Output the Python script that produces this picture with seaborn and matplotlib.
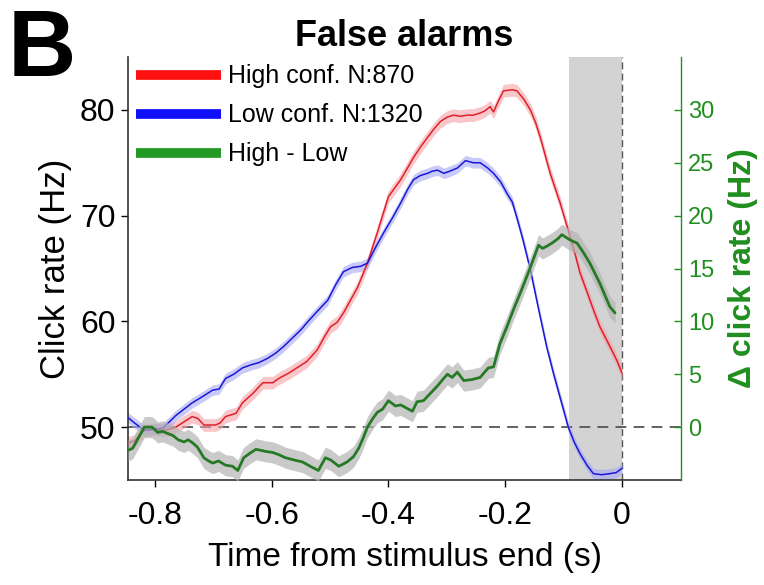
import numpy as np
import pandas as pd
import matplotlib
matplotlib.use("Agg")
import matplotlib.pyplot as plt
import seaborn as sns
from matplotlib.lines import Line2D

# ---------------- data ----------------
t_low = [-0.846, -0.835, -0.818, -0.800, -0.787, -0.775, -0.764, -0.750, -0.736, -0.718,
         -0.701, -0.690, -0.679, -0.665, -0.650, -0.635, -0.622, -0.607, -0.593, -0.580,
         -0.565, -0.550, -0.536, -0.516, -0.504, -0.490, -0.477, -0.462, -0.448, -0.436,
         -0.422, -0.408, -0.393, -0.379, -0.367, -0.357, -0.345, -0.333, -0.325, -0.316,
         -0.305, -0.295, -0.282, -0.268, -0.255, -0.243, -0.230, -0.220, -0.208, -0.197,
         -0.188, -0.180, -0.170, -0.157, -0.143, -0.129, -0.117, -0.106, -0.092, -0.082,
         -0.072, -0.060, -0.049, -0.035, -0.021, -0.010, 0.0]
low_conf = [50.9, 50.4, 49.7, 49.8, 49.9, 50.5, 51.1, 51.7, 52.3, 52.9,
            53.5, 53.6, 54.6, 55.0, 55.6, 55.9, 56.1, 56.5, 57.0, 57.6,
            58.4, 59.2, 60.1, 61.3, 62.0, 63.5, 64.7, 65.1, 65.2, 65.5,
            67.0, 68.4, 69.8, 71.2, 72.5, 73.4, 73.8, 74.0, 74.2, 74.3,
            74.0, 74.2, 74.5, 75.2, 75.0, 75.0, 74.5, 74.0, 73.2, 72.1,
            71.3, 69.8, 67.8, 64.9, 61.2, 57.6, 55.0, 52.8, 50.0, 48.6,
            47.5, 46.4, 45.6, 45.5, 45.6, 45.7, 46.1]

t_high = [-0.846, -0.835, -0.818, -0.800, -0.787, -0.775, -0.764, -0.750, -0.736, -0.726,
          -0.716, -0.705, -0.696, -0.688, -0.679, -0.661, -0.650, -0.632, -0.615, -0.598,
          -0.588, -0.571, -0.554, -0.540, -0.522, -0.508, -0.499, -0.488, -0.477, -0.465,
          -0.453, -0.436, -0.419, -0.400, -0.379, -0.357, -0.345, -0.333, -0.322, -0.311,
          -0.300, -0.289, -0.277, -0.265, -0.255, -0.243, -0.235, -0.226, -0.220, -0.212,
          -0.203, -0.188, -0.180, -0.168, -0.157, -0.148, -0.140, -0.123, -0.106, -0.092,
          -0.080, -0.072, -0.060, -0.049, -0.038, -0.026, -0.015, -0.008, 0.0]
high_conf = [48.5, 48.7, 49.7, 49.8, 49.7, 49.8, 50.0, 50.5, 51.0, 50.8,
             50.2, 50.2, 50.2, 50.4, 51.0, 51.3, 52.3, 53.2, 54.2, 54.2,
             54.6, 55.1, 55.7, 56.2, 57.3, 58.7, 59.5, 59.9, 60.8, 62.0,
             63.2, 65.5, 68.4, 71.8, 73.4, 75.5, 76.5, 77.4, 78.2, 78.9,
             79.3, 79.5, 79.4, 79.5, 79.5, 79.7, 79.9, 80.3, 79.8, 80.8,
             81.8, 81.9, 81.8, 81.0, 80.0, 78.8, 77.4, 74.0, 71.2, 68.6,
             66.3, 64.6, 62.8, 61.1, 59.5, 58.2, 57.0, 56.2, 55.1]

t_diff = [-0.846, -0.838, -0.828, -0.818, -0.805, -0.795, -0.787, -0.778, -0.769, -0.760,
          -0.750, -0.743, -0.735, -0.727, -0.716, -0.708, -0.701, -0.691, -0.679, -0.667,
          -0.658, -0.648, -0.638, -0.627, -0.618, -0.610, -0.598, -0.588, -0.576, -0.562,
          -0.547, -0.534, -0.520, -0.508, -0.499, -0.485, -0.471, -0.460, -0.451, -0.443,
          -0.436, -0.427, -0.419, -0.410, -0.400, -0.388, -0.379, -0.369, -0.359, -0.351,
          -0.340, -0.328, -0.316, -0.307, -0.299, -0.291, -0.282, -0.271, -0.257, -0.243,
          -0.229, -0.220, -0.209, -0.197, -0.186, -0.174, -0.157, -0.143, -0.136, -0.129,
          -0.120, -0.110, -0.103, -0.089, -0.077, -0.066, -0.055, -0.038, -0.021, -0.012]
high_minus_low = [-2.2, -2.0, -1.0, 0.0, 0.0, -0.5, -0.4, -0.6, -0.8, -1.2,
                  -1.4, -1.2, -1.5, -1.9, -2.9, -3.2, -3.4, -3.2, -3.6, -3.7,
                  -4.1, -2.9, -2.5, -2.1, -2.2, -2.3, -2.4, -2.6, -2.9, -3.1,
                  -3.3, -3.7, -4.1, -2.9, -3.1, -3.7, -3.3, -2.8, -2.0, -1.0,
                  0.0, 0.8, 1.4, 1.7, 2.5, 2.0, 2.1, 1.8, 1.5, 2.4,
                  2.5, 3.2, 3.9, 4.5, 5.0, 4.7, 5.2, 4.4, 4.5, 4.7,
                  5.6, 5.7, 7.9, 9.5, 11.1, 12.7, 15.1, 17.2, 16.9, 17.1,
                  17.4, 17.8, 18.2, 17.7, 17.4, 16.5, 15.5, 13.6, 11.4, 10.8]

sem_high = 0.6
sem_low = 0.5
sem_diff = 1.0

labels = ["High conf. N:870", "Low conf. N:1320", "High - Low"]
x_ticks = [-0.8, -0.6, -0.4, -0.2, 0]
x_ticklabels = ["-0.8", "-0.6", "-0.4", "-0.2", "0"]
left_ticks = [50, 60, 70, 80]
right_ticks = [0, 5, 10, 15, 20, 25, 30]
shade_window = (-0.09, 0.0)

# ---------------- styling ----------------
sns.set_theme(style="ticks")
plt.rcParams["font.family"] = ["Liberation Sans", "DejaVu Sans"]
plt.rcParams["axes.unicode_minus"] = False
for k in ("text.color", "axes.labelcolor", "xtick.color", "ytick.color"):
    plt.rcParams[k] = "black"

RED_LINE = "#e0202a"
BLUE_LINE = "#1818d8"
GREEN_LINE = "#267a26"
GREEN_AX = "#1f8f1f"

fig = plt.figure(figsize=(7.64, 5.85), dpi=100)
ax = fig.add_axes([128 / 764, 105 / 585, (681 - 128) / 764, (480 - 57) / 585])
ax2 = ax.twinx()

df_high = pd.DataFrame({"t": t_high, "rate": high_conf})
df_low = pd.DataFrame({"t": t_low, "rate": low_conf})
df_diff = pd.DataFrame({"t": t_diff, "rate": high_minus_low})

# shaded window and reference lines
ax.axvspan(*shade_window, color="#d3d3d3", lw=0, zorder=0)
ax.axhline(50, color="#555555", lw=1.3, ls=(0, (6, 4)), zorder=1)
ax.axvline(0, color="#555555", lw=1.0, ls=(0, (5, 3)), zorder=1)

# bands
ax.fill_between(df_high.t, df_high.rate - sem_high, df_high.rate + sem_high,
                color="#f5a0a6", alpha=0.6, lw=0, zorder=2)
ax.fill_between(df_low.t, df_low.rate - sem_low, df_low.rate + sem_low,
                color="#a8a8f5", alpha=0.6, lw=0, zorder=2)
ax2.fill_between(df_diff.t, df_diff.rate - sem_diff, df_diff.rate + sem_diff,
                 color="#b4b4b4", alpha=0.7, lw=0, zorder=2)

sns.lineplot(data=df_high, x="t", y="rate", ax=ax, color=RED_LINE, lw=1.1,
             zorder=3, legend=False)
sns.lineplot(data=df_low, x="t", y="rate", ax=ax, color=BLUE_LINE, lw=1.1,
             zorder=3, legend=False)
sns.lineplot(data=df_diff, x="t", y="rate", ax=ax2, color=GREEN_LINE, lw=2.0,
             zorder=3, legend=False)

# axes limits
ax.set_xlim(-0.846, 0.101)
ax.set_ylim(45, 85)
ax2.set_ylim(-5, 35)

ax.set_xticks(x_ticks)
ax.set_xticklabels(x_ticklabels)
ax.set_yticks(left_ticks)
ax2.set_yticks(right_ticks)

ax.tick_params(axis="both", labelsize=23, length=5, width=1, direction="out",
               colors="black", pad=4)
ax.tick_params(axis="x", pad=10)
ax2.tick_params(axis="y", labelsize=17, length=5, width=1, direction="in",
                colors=GREEN_AX, pad=5)

ax.set_xlabel("Time from stimulus end (s)", fontsize=24, labelpad=8)
ax.set_ylabel("Click rate (Hz)", fontsize=25, labelpad=6)
ax2.set_ylabel("\u0394 click rate (Hz)", fontsize=23, fontweight="bold",
               color=GREEN_AX, labelpad=10)
ax.set_title("False alarms", fontsize=26, fontweight="bold", pad=8, color="black")

for a in (ax, ax2):
    a.spines["top"].set_visible(False)
ax.spines["right"].set_visible(False)
ax2.spines["left"].set_visible(False)
ax2.spines["bottom"].set_visible(False)
ax2.spines["right"].set_color(GREEN_AX)
ax.spines["left"].set_color("#333333")
ax.spines["bottom"].set_color("#333333")
ax.spines["left"].set_linewidth(1.2)
ax.spines["bottom"].set_linewidth(1.2)
ax2.spines["right"].set_linewidth(1.0)
ax.grid(False)
ax2.grid(False)

# legend
handles = [Line2D([], [], color="#ff1010", lw=7, solid_capstyle="butt"),
           Line2D([], [], color="#1010ff", lw=7, solid_capstyle="butt"),
           Line2D([], [], color="#229922", lw=7, solid_capstyle="butt")]
leg = ax2.legend(handles, labels, loc="upper left", frameon=False, fontsize=18,
                 handlelength=3.4, handletextpad=0.3, labelspacing=0.6,
                 borderaxespad=0.1, borderpad=0.2)

fig.text(0.010, 0.988, "B", fontsize=68, fontweight="bold", va="top", ha="left",
         color="black")

fig.savefig("out.png", dpi=100)
